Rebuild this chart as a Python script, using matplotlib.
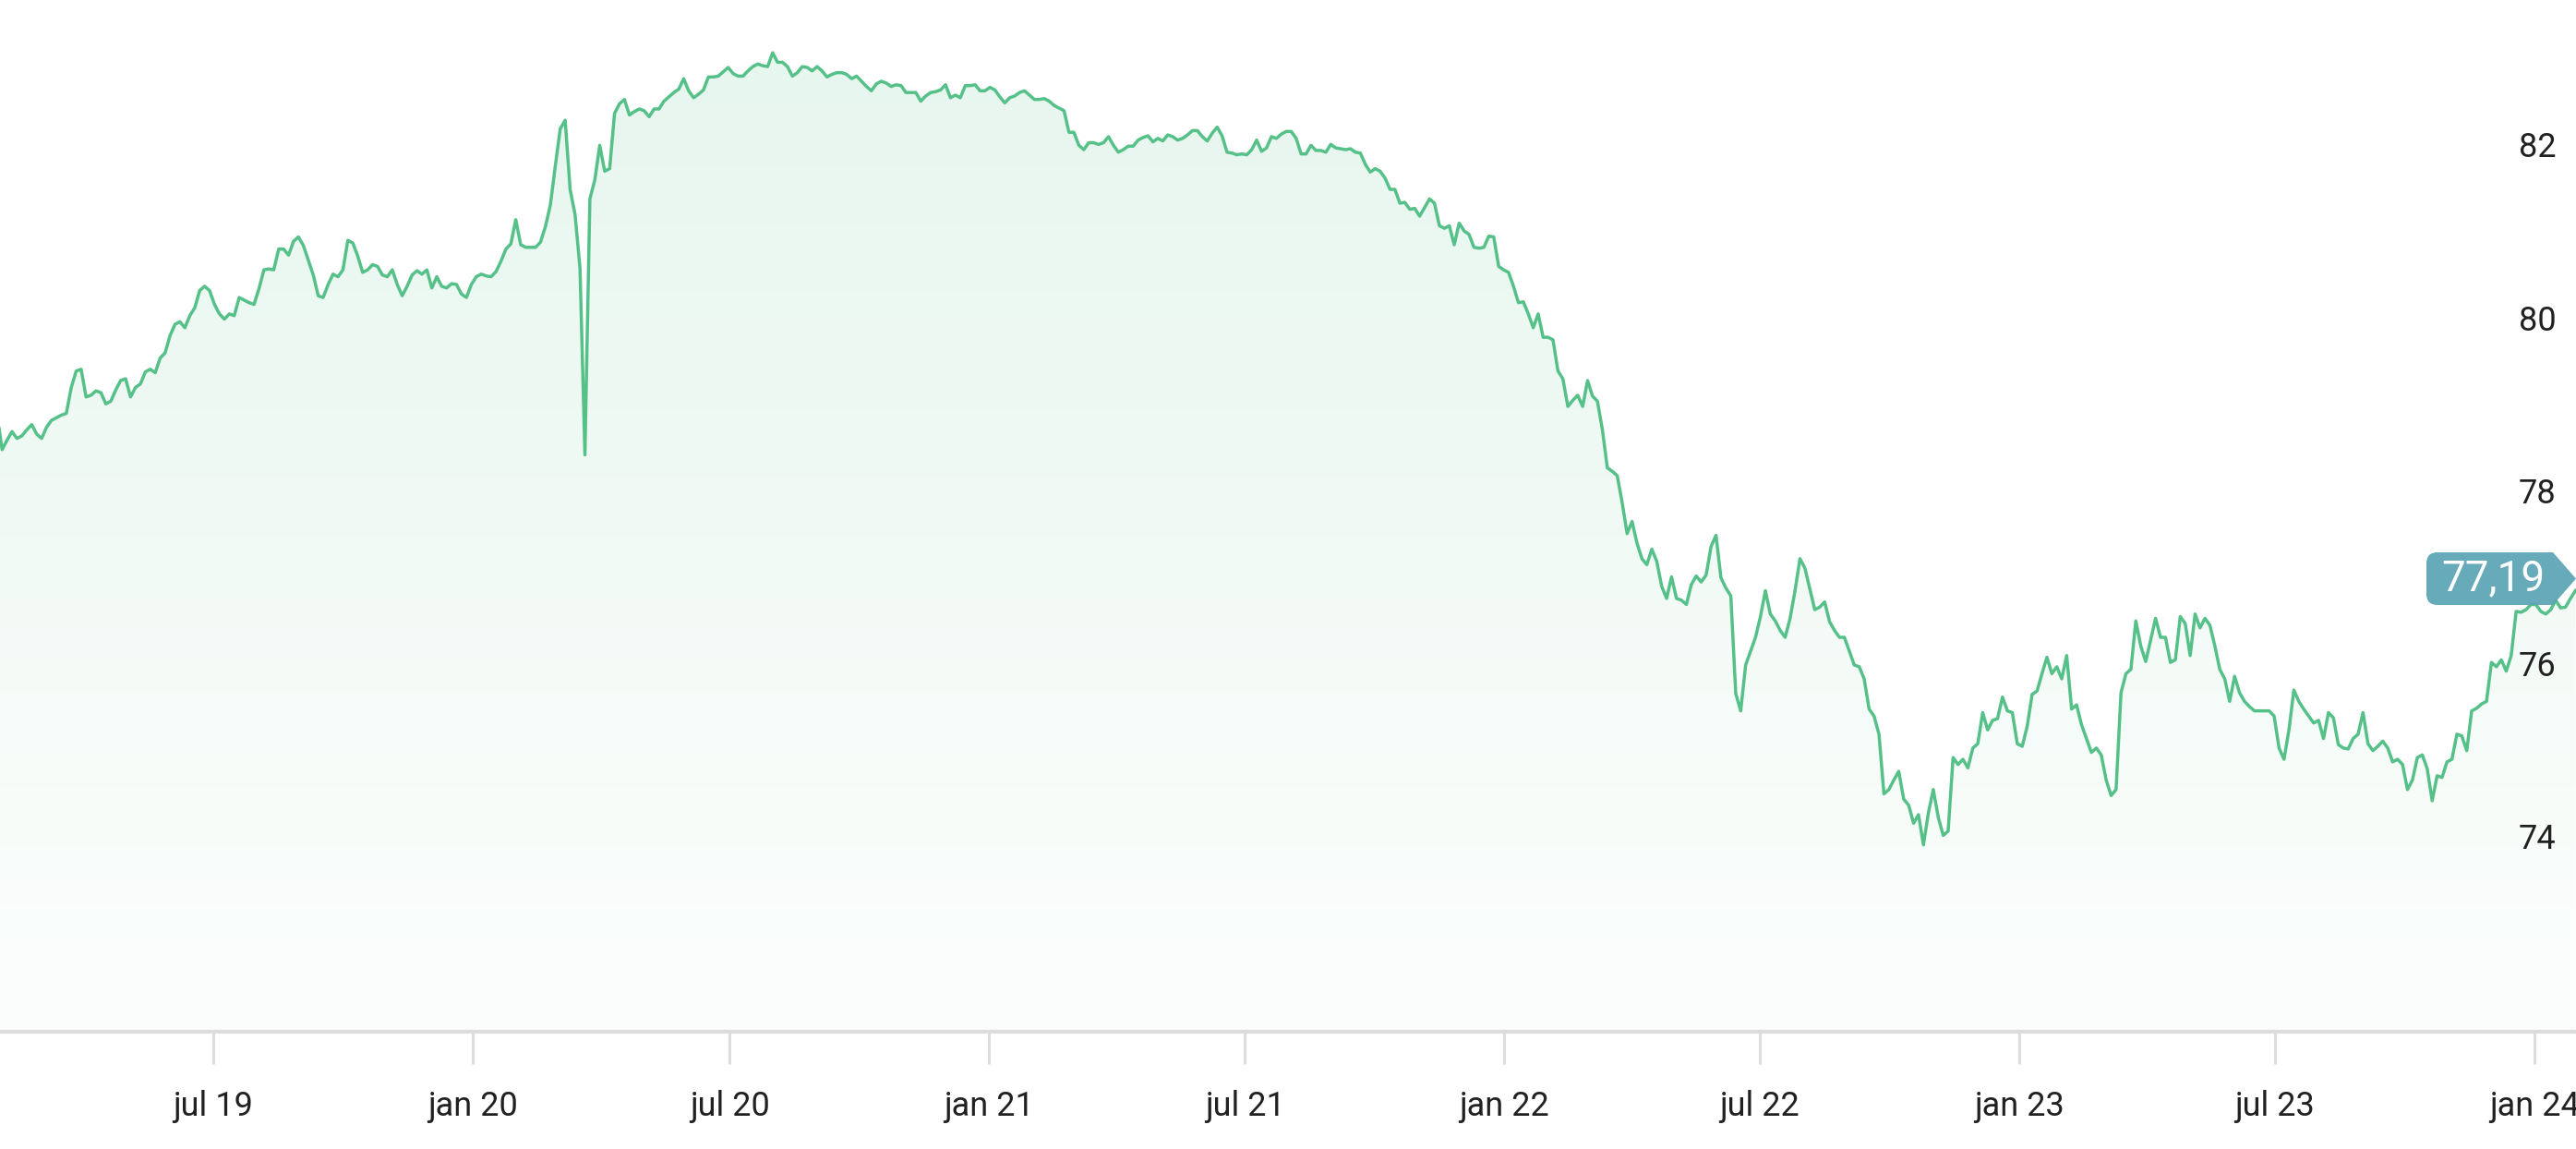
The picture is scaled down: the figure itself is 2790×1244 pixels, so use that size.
import numpy as np
import pandas as pd
import matplotlib
matplotlib.use('Agg')
import matplotlib.pyplot as plt
import matplotlib.dates as mdates
from matplotlib.patches import PathPatch
from matplotlib.path import Path
from matplotlib.transforms import Affine2D

# closes every 3.5 days, first point 2019-01-29
values = [
    78.87, 78.47, 78.58, 78.68, 78.60, 78.63, 78.70, 78.76, 78.65, 78.60,
    78.73, 78.81, 78.84, 78.87, 78.89, 79.19, 79.38, 79.40, 79.08, 79.10,
    79.15, 79.13, 79.00, 79.03, 79.16, 79.27, 79.29, 79.08, 79.19, 79.23,
    79.37, 79.40, 79.36, 79.53, 79.59, 79.79, 79.92, 79.95, 79.88, 80.02,
    80.11, 80.31, 80.36, 80.31, 80.15, 80.04, 79.98, 80.04, 80.02, 80.23,
    80.20, 80.17, 80.15, 80.33, 80.55, 80.56, 80.55, 80.79, 80.79, 80.72,
    80.88, 80.93, 80.83, 80.66, 80.49, 80.25, 80.23, 80.38, 80.50, 80.47,
    80.55, 80.89, 80.86, 80.71, 80.52, 80.55, 80.61, 80.59, 80.49, 80.47,
    80.55, 80.38, 80.25, 80.36, 80.49, 80.54, 80.50, 80.55, 80.34, 80.47,
    80.36, 80.34, 80.39, 80.38, 80.27, 80.23, 80.38, 80.47, 80.50, 80.48,
    80.47, 80.53, 80.65, 80.79, 80.85, 81.13, 80.84, 80.81, 80.81, 80.81,
    80.87, 81.05, 81.30, 81.75, 82.18, 82.28, 81.48, 81.19, 80.57, 78.41,
    81.37, 81.59, 81.99, 81.69, 81.72, 82.36, 82.47, 82.52, 82.34, 82.38,
    82.41, 82.39, 82.32, 82.41, 82.41, 82.50, 82.55, 82.60, 82.64, 82.76,
    82.62, 82.54, 82.58, 82.63, 82.78, 82.78, 82.79, 82.84, 82.89, 82.82,
    82.79, 82.79, 82.85, 82.90, 82.93, 82.91, 82.90, 83.06, 82.95, 82.95,
    82.90, 82.79, 82.83, 82.90, 82.89, 82.85, 82.90, 82.85, 82.78, 82.81,
    82.83, 82.83, 82.81, 82.76, 82.79, 82.73, 82.67, 82.62, 82.70, 82.73,
    82.71, 82.67, 82.69, 82.68, 82.60, 82.60, 82.60, 82.50, 82.56, 82.60,
    82.61, 82.63, 82.69, 82.54, 82.57, 82.54, 82.68, 82.68, 82.69, 82.62,
    82.62, 82.66, 82.63, 82.55, 82.48, 82.54, 82.56, 82.60, 82.62, 82.57,
    82.52, 82.52, 82.53, 82.50, 82.45, 82.42, 82.39, 82.14, 82.14, 81.99,
    81.94, 82.02, 82.02, 82.00, 82.02, 82.09, 81.99, 81.91, 81.94, 81.98,
    81.98, 82.05, 82.08, 82.10, 82.03, 82.07, 82.04, 82.11, 82.09, 82.05,
    82.07, 82.11, 82.16, 82.16, 82.09, 82.04, 82.13, 82.20, 82.10, 81.91,
    81.90, 81.88, 81.89, 81.88, 81.94, 82.05, 81.92, 81.96, 82.09, 82.07,
    82.12, 82.15, 82.15, 82.07, 81.89, 81.89, 81.99, 81.93, 81.93, 81.91,
    82.00, 81.96, 81.95, 81.94, 81.95, 81.91, 81.90, 81.77, 81.68, 81.72,
    81.69, 81.61, 81.48, 81.48, 81.32, 81.33, 81.25, 81.26, 81.17, 81.27,
    81.37, 81.32, 81.06, 81.03, 81.06, 80.84, 81.09, 81.00, 80.96, 80.81,
    80.80, 80.81, 80.94, 80.93, 80.59, 80.55, 80.52, 80.36, 80.17, 80.18,
    80.04, 79.88, 80.04, 79.77, 79.77, 79.74, 79.38, 79.29, 78.97, 79.04,
    79.10, 78.97, 79.27, 79.09, 79.03, 78.70, 78.26, 78.22, 78.17, 77.86,
    77.50, 77.64, 77.39, 77.21, 77.14, 77.32, 77.18, 76.89, 76.75, 77.00,
    76.75, 76.73, 76.68, 76.91, 77.01, 76.94, 77.02, 77.35, 77.48, 76.99,
    76.87, 76.78, 75.65, 75.45, 75.98, 76.14, 76.30, 76.54, 76.84, 76.57,
    76.49, 76.38, 76.30, 76.52, 76.84, 77.21, 77.10, 76.86, 76.62, 76.65,
    76.71, 76.48, 76.38, 76.30, 76.30, 76.14, 75.98, 75.96, 75.82, 75.47,
    75.39, 75.18, 74.49, 74.54, 74.65, 74.75, 74.43, 74.36, 74.15, 74.25,
    73.90, 74.27, 74.54, 74.22, 74.01, 74.06, 74.91, 74.83, 74.89, 74.79,
    75.02, 75.07, 75.43, 75.23, 75.34, 75.36, 75.61, 75.45, 75.43, 75.07,
    75.04, 75.27, 75.64, 75.68, 75.88, 76.07, 75.88, 75.96, 75.82, 76.09,
    75.47, 75.52, 75.29, 75.13, 74.97, 75.02, 74.94, 74.65, 74.47, 74.54,
    75.66, 75.88, 75.93, 76.49, 76.20, 76.02, 76.27, 76.52, 76.30, 76.30,
    76.01, 76.04, 76.54, 76.46, 76.09, 76.57, 76.41, 76.52, 76.44, 76.20,
    75.93, 75.82, 75.56, 75.85, 75.66, 75.56, 75.50, 75.45, 75.45, 75.45,
    75.45, 75.39, 75.02, 74.89, 75.23, 75.69, 75.56, 75.47, 75.39, 75.31,
    75.34, 75.13, 75.43, 75.37, 75.06, 75.02, 75.01, 75.13, 75.18, 75.43,
    75.07, 74.99, 75.04, 75.10, 75.02, 74.86, 74.89, 74.83, 74.54, 74.65,
    74.91, 74.94, 74.78, 74.41, 74.70, 74.68, 74.86, 74.89, 75.18, 75.16,
    74.99, 75.45, 75.48, 75.53, 75.56, 76.01, 75.96, 76.04, 75.91, 76.09,
    76.60, 76.59, 76.62, 76.68, 76.68, 76.60, 76.57, 76.62, 76.73, 76.64,
    76.65, 76.75, 76.84,
]
dates = pd.date_range(start='2019-01-29', periods=len(values), freq='84h')

tick_dates = ['2019-07-01', '2020-01-01', '2020-07-01', '2021-01-01', '2021-07-01',
              '2022-01-01', '2022-07-01', '2023-01-01', '2023-07-01', '2024-01-01']
tick_labels = ['jul 19', 'jan 20', 'jul 20', 'jan 21', 'jul 21',
               'jan 22', 'jul 22', 'jan 23', 'jul 23', 'jan 24']
y_ticks = [74, 76, 78, 80, 82]
last_price = '77,19'

line_color = '#55c189'
badge_color = '#5ba4b4'
W, H = 2790, 1244

plt.rcParams['font.family'] = ['Roboto', 'DejaVu Sans']

fig = plt.figure(figsize=(W / 100, H / 100), dpi=100)
ax = fig.add_axes([0, 1 - 1117 / H, 1, 1117 / H])

x0 = mdates.date2num(pd.Timestamp('2019-01-31'))
x1 = mdates.date2num(pd.Timestamp('2024-01-30 10:00'))
y0, y1 = 71.74, 83.67

ax.plot(dates, values, color=line_color, lw=2.5, solid_joinstyle='round', zorder=3)

# gradient fill under the line
fill = ax.fill_between(dates, values, y0, facecolor='none', edgecolor='none')
clip = PathPatch(fill.get_paths()[0], transform=ax.transData, facecolor='none', edgecolor='none')
ax.add_patch(clip)
grad = np.zeros((256, 1, 4))
grad[:, :, :3] = matplotlib.colors.to_rgb(line_color)
grad[:, 0, 3] = np.linspace(0.15, 0.02, 256)
im = ax.imshow(grad, aspect='auto', extent=[x0, x1, y0, y1], origin='upper', zorder=1)
im.set_clip_path(clip)

ax.set_xlim(x0, x1)
ax.set_ylim(y0, y1)

ax.set_xticks(pd.to_datetime(tick_dates))
ax.set_xticklabels(tick_labels)
ax.tick_params(axis='x', length=25, width=2.2, color='#dddddd', pad=20,
               labelsize=26, labelcolor='#212121')

ax.yaxis.tick_right()
ax.set_yticks(y_ticks)
ax.set_yticklabels([str(v) for v in y_ticks])
ax.tick_params(axis='y', length=0, pad=-45, labelsize=26, labelcolor='#212121')

for s in ['top', 'left', 'right']:
    ax.spines[s].set_visible(False)
ax.spines['bottom'].set_color('#dcdcdc')
ax.spines['bottom'].set_linewidth(3)
ax.set_facecolor('white')

# price tag on the right edge
px = Affine2D().scale(1 / W, 1 / H) + fig.transFigure
L, R, T = 2628, 2765, 2790
top, bot = H - 598, H - 655
mid = (top + bot) / 2
r = 12
verts = [(L + r, top), (R, top), (T, mid), (R, bot), (L + r, bot),
         (L, bot), (L, bot + r), (L, top - r), (L, top), (L + r, top), (L + r, top)]
codes = [Path.MOVETO, Path.LINETO, Path.LINETO, Path.LINETO, Path.LINETO,
         Path.CURVE3, Path.CURVE3, Path.LINETO, Path.CURVE3, Path.CURVE3, Path.CLOSEPOLY]
badge = PathPatch(Path(verts, codes), transform=px, facecolor=badge_color,
                  edgecolor='none', alpha=0.93, zorder=5)
fig.add_artist(badge)
fig.text(2700 / W, mid / H, last_price, transform=fig.transFigure, ha='center', va='center',
         fontsize=33, color='white', zorder=6)

fig.savefig('out.png', dpi=100, facecolor='white')
